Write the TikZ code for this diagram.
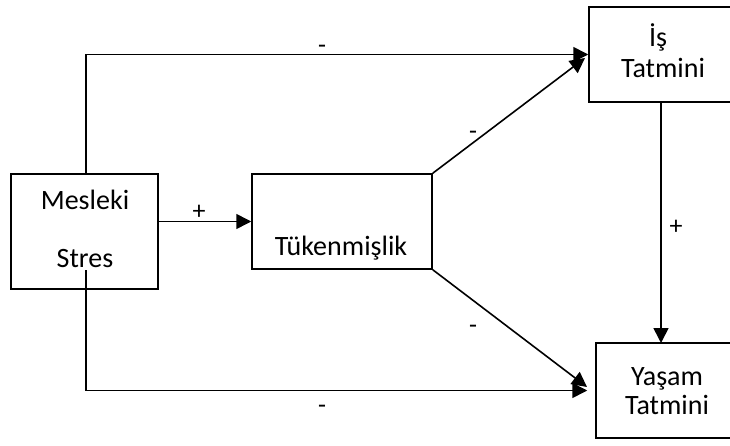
\documentclass[tikz,border=0pt]{standalone}
\usepackage{fontspec}
\setmainfont{Carlito}
\usetikzlibrary{arrows.meta,calc}
\begin{document}
\begin{tikzpicture}[x=1pt,y=-1pt,
  box/.style={draw,line width=1.5pt,minimum width=#1,inner sep=0pt},
  txt/.style={anchor=base,inner sep=0pt,font=\fontsize{28}{33}\selectfont},
  lbl/.style={anchor=base,inner sep=0pt,font=\fontsize{26}{30}\selectfont},
  arr/.style={line width=1.6pt,-{Triangle[length=15pt,width=15pt]}},
  ln/.style={line width=1.6pt}]
\useasboundingbox (0,0) rectangle (730,446);
\node[box=147pt,minimum height=115pt] (ms) at (84.5,231.5) {};
\node[box=180pt,minimum height=95pt] (tk) at (342,221.5) {};
\node[box=148pt,minimum height=95pt] (is) at (663,54.5) {};
\node[box=143pt,minimum height=95pt] (ys) at (667.5,390.5) {};
% texts
\node[txt] (t1) at (85,210) {Mesleki};
\node[txt] (t2) at (85,267) {Stres};
\node[txt] (t3) at (341,255) {Tükenmişlik};
\node[txt] (t4) at (658,47) {İş};
\node[txt] (t5) at (663,78) {Tatmini};
\node[txt] (t6) at (667,385) {Yaşam};
\node[txt] (t7) at (667,414) {Tatmini};
% connectors
\coordinate (msb) at (86,270);
\coordinate (mst) at (86,174);
\coordinate (isd) at (585,58);
\coordinate (ysd) at (587,387);
\coordinate (vt) at (661,102);
\coordinate (vb) at (661,343);
\draw[arr] (ms.east |- tk.west) -- (tk.west);
\draw[arr] (mst) |- (is.west);
\draw[arr,shorten >=8pt] (msb) |- (ys.west);
\draw[arr] (tk.north east) -- (isd);
\draw[arr] (tk.south east) -- (ysd);
\draw[arr] (vt) -- (vb);
% labels
\node[lbl] (l1) at (322,54) {-};
\node[lbl] (l2) at (322,413) {-};
\node[lbl] (l3) at (473,140) {-};
\node[lbl] (l4) at (473,333) {-};
\node[lbl] (l5) at (199,220) {+};
\node[lbl] (l6) at (676,234) {+};
\end{tikzpicture}
\end{document}
